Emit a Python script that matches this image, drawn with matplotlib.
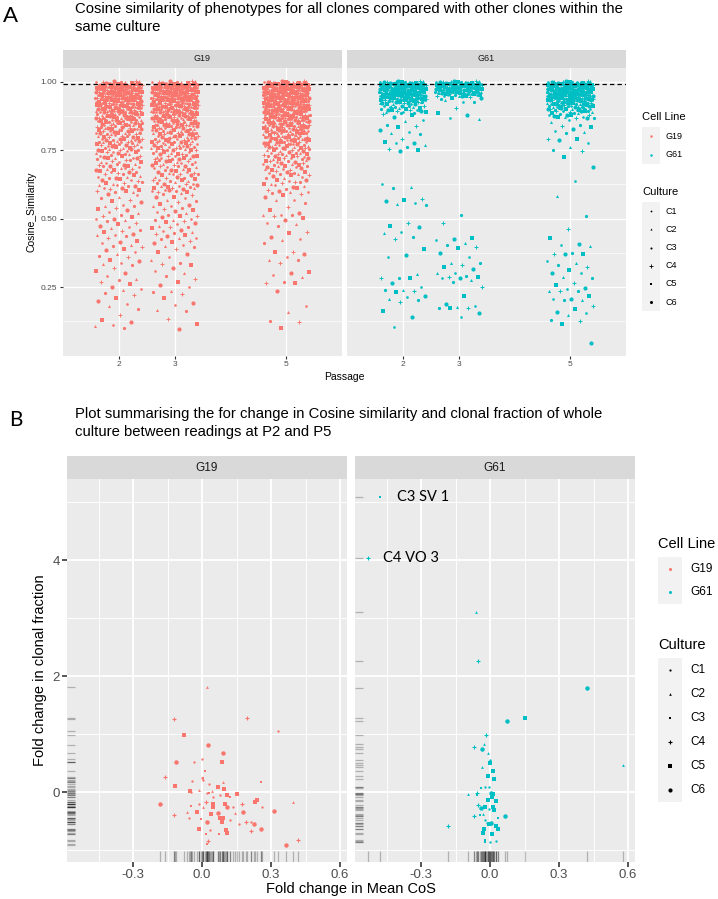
import matplotlib
matplotlib.use('Agg')

import numpy as np
import matplotlib.pyplot as plt
from matplotlib import font_manager
from matplotlib.lines import Line2D
from matplotlib.patches import Rectangle


W, H = 718, 899
RED = '#F8766D'
CYAN = '#00BFC4'
CULTURES = ['C1', 'C2', 'C3', 'C4', 'C5', 'C6']

# ---- panel A: cosine similarity per passage (dense top = value/count table, tail = single clones)
levels_a = [1.00, 0.99, 0.98, 0.97, 0.96, 0.95, 0.94, 0.93, 0.92, 0.91, 0.90, 0.89, 0.88, 0.87,
            0.86, 0.85, 0.84, 0.83, 0.82, 0.81, 0.80, 0.79, 0.78, 0.77, 0.76, 0.75, 0.74, 0.73,
            0.72, 0.71, 0.70, 0.69, 0.68, 0.67, 0.66, 0.65, 0.64, 0.63, 0.62, 0.61, 0.60]

g19_p2_n = [10, 22, 22, 21, 21, 20, 20, 19, 17, 16, 15, 14, 13, 12, 12, 11, 10, 10, 9, 9, 8, 8, 8,
            7, 7, 7, 6, 6, 6, 5, 5, 5, 5, 5, 4, 4, 4, 4, 4, 4, 4]
g19_p2_tail = [0.59, 0.585, 0.58, 0.575, 0.57, 0.565, 0.56, 0.55, 0.548, 0.545, 0.54, 0.535, 0.53,
               0.525, 0.52, 0.515, 0.51, 0.505, 0.50, 0.498, 0.495, 0.49, 0.485, 0.48, 0.475, 0.47,
               0.465, 0.46, 0.455, 0.45, 0.445, 0.44, 0.44, 0.435, 0.43, 0.42, 0.415, 0.41, 0.405,
               0.40, 0.395, 0.39, 0.385, 0.38, 0.37, 0.365, 0.36, 0.35, 0.345, 0.34, 0.335, 0.33,
               0.32, 0.31, 0.30, 0.29, 0.28, 0.275, 0.27, 0.26, 0.25, 0.245, 0.24, 0.23, 0.22, 0.21,
               0.20, 0.19, 0.18, 0.17, 0.15, 0.13, 0.124, 0.112, 0.11, 0.10]

g19_p3_n = [10, 22, 22, 21, 21, 20, 20, 19, 17, 17, 16, 15, 14, 13, 12, 12, 11, 10, 10, 9, 9, 8, 8,
            8, 7, 7, 7, 6, 6, 6, 6, 5, 5, 5, 5, 5, 5, 5, 5, 5, 5]
g19_p3_tail = [0.595, 0.59, 0.585, 0.58, 0.578, 0.575, 0.57, 0.565, 0.56, 0.555, 0.55, 0.548, 0.545,
               0.54, 0.535, 0.53, 0.528, 0.525, 0.52, 0.515, 0.51, 0.508, 0.505, 0.50, 0.497, 0.495,
               0.49, 0.487, 0.485, 0.48, 0.475, 0.47, 0.468, 0.465, 0.46, 0.455, 0.45, 0.447, 0.445,
               0.44, 0.435, 0.43, 0.428, 0.425, 0.42, 0.415, 0.41, 0.405, 0.40, 0.395, 0.39, 0.38,
               0.37, 0.36, 0.35, 0.34, 0.335, 0.33, 0.32, 0.31, 0.30, 0.29, 0.28, 0.27, 0.257, 0.25,
               0.237, 0.233, 0.225, 0.21, 0.193, 0.185, 0.167, 0.164, 0.134, 0.116, 0.096]

g19_p5_n = [12, 24, 24, 23, 23, 22, 22, 21, 20, 19, 18, 17, 16, 15, 15, 14, 13, 12, 12, 11, 11, 10,
            10, 9, 9, 8, 7, 7, 6, 6, 6, 5, 5, 5, 4, 4, 4, 4, 3, 3, 3]
g19_p5_tail = [0.595, 0.59, 0.585, 0.58, 0.568, 0.568, 0.556, 0.544, 0.532, 0.519, 0.513, 0.513,
               0.513, 0.508, 0.501, 0.495, 0.486, 0.481, 0.473, 0.453, 0.447, 0.434, 0.425, 0.422,
               0.41, 0.38, 0.38, 0.371, 0.361, 0.349, 0.349, 0.34, 0.307, 0.301, 0.294, 0.289, 0.27,
               0.267, 0.264, 0.237, 0.181, 0.161, 0.128, 0.122, 0.102]

levels_g61 = [1.00, 0.99, 0.98, 0.97, 0.96, 0.95, 0.94, 0.93, 0.92, 0.91, 0.90, 0.89, 0.88, 0.87]
g61_p2_n = [14, 30, 30, 30, 28, 26, 22, 16, 10, 8, 7, 6, 0, 0]
g61_p2_tail = [0.921, 0.909, 0.897, 0.885, 0.882, 0.878, 0.872, 0.86, 0.858, 0.842, 0.838, 0.836,
               0.824, 0.818, 0.814, 0.808, 0.79, 0.78, 0.777, 0.775, 0.769, 0.763, 0.753, 0.751,
               0.747, 0.627, 0.614, 0.613, 0.571, 0.568, 0.566, 0.556, 0.552, 0.55, 0.483, 0.475,
               0.468, 0.451, 0.449, 0.434, 0.427, 0.388, 0.367, 0.359, 0.297, 0.282, 0.282, 0.282,
               0.267, 0.25, 0.24, 0.239, 0.237, 0.234, 0.218, 0.215, 0.206, 0.203, 0.197, 0.164,
               0.142, 0.104]

g61_p3_n = [14, 30, 30, 28, 22, 10, 4, 2, 0, 0, 0, 0, 0, 0]
g61_p3_tail = [0.927, 0.903, 0.885, 0.878, 0.866, 0.863, 0.513, 0.483, 0.428, 0.425, 0.422, 0.41,
               0.404, 0.398, 0.392, 0.376, 0.359, 0.34, 0.337, 0.331, 0.322, 0.315, 0.303, 0.301,
               0.291, 0.289, 0.289, 0.285, 0.282, 0.276, 0.27, 0.252, 0.219, 0.189, 0.181, 0.177,
               0.175, 0.173, 0.173, 0.157, 0.142]

g61_p5_n = [14, 30, 30, 30, 28, 26, 24, 20, 16, 13, 11, 9, 7, 5]
g61_p5_tail = [0.866, 0.86, 0.854, 0.842, 0.838, 0.836, 0.826, 0.82, 0.818, 0.814, 0.79, 0.79,
               0.787, 0.777, 0.763, 0.751, 0.747, 0.724, 0.69, 0.639, 0.583, 0.511, 0.462, 0.428,
               0.408, 0.404, 0.40, 0.376, 0.371, 0.371, 0.371, 0.346, 0.34, 0.331, 0.322, 0.313,
               0.303, 0.303, 0.286, 0.282, 0.267, 0.258, 0.246, 0.242, 0.237, 0.237, 0.237, 0.218,
               0.207, 0.207, 0.203, 0.203, 0.181, 0.169, 0.161, 0.155, 0.149, 0.13, 0.128, 0.116,
               0.048]

passages = [2, 3, 5]
cos_threshold = 0.99

# ---- panel B: fold changes between P2 and P5
b_g19_x = [0.023, -0.12, 0.196, -0.077, 0.329, 0.028, 0.091, -0.114, 0.087, -0.035, -0.001, 0.012,
           -0.161, 0.003, 0.006, -0.043, 0.09, 0.255, -0.119, 0.032, 0.068, -0.013, -0.051, -0.046,
           0.020, 0.045, 0.096, 0.032, 0.080, 0.110, 0.154, -0.183, 0.019, 0.048, 0.10, 0.122,
           0.230, 0.238, 0.261, 0.394, -0.048, -0.012, 0.006, 0.046, 0.109, 0.136, 0.174, -0.122,
           -0.067, -0.023, 0.039, 0.070, 0.178, 0.145, 0.314, -0.058, -0.003, 0.078, 0.093, 0.120,
           0.020, 0.086, 0.159, 0.190, 0.212, 0.226, -0.014, 0.036, 0.104, 0.107, 0.075, 0.017,
           0.212, 0.257, 0.025, 0.023, 0.365, 0.416, 0.0, 0.049]
b_g19_y = [1.82, 1.26, 1.27, 0.99, 1.05, 0.81, 0.68, 0.52, 0.52, 0.52, 0.57, 0.37, 0.26, 0.25,
           0.20, 0.19, 0.18, 0.18, 0.11, 0.13, 0.09, 0.03, 0.02, 0.0, -0.01, 0.01, 0.05, -0.01,
           -0.05, -0.05, -0.04, -0.20, -0.17, -0.20, -0.20, -0.08, -0.17, -0.14, -0.25, -0.17,
           -0.24, -0.20, -0.25, -0.26, -0.26, -0.25, -0.21, -0.40, -0.34, -0.34, -0.38, -0.37,
           -0.34, -0.37, -0.32, -0.45, -0.46, -0.45, -0.45, -0.49, -0.52, -0.52, -0.55, -0.51,
           -0.52, -0.55, -0.64, -0.66, -0.66, -0.70, -0.72, -0.72, -0.68, -0.63, -0.84, -0.90,
           -0.92, -0.83, 0.24, -0.08]
b_g19_culture = ['C2', 'C4', 'C4', 'C5', 'C1', 'C6', 'C6', 'C6', 'C5', 'C1', 'C1', 'C3', 'C4', 'C3',
                 'C1', 'C1', 'C2', 'C3', 'C5', 'C1', 'C5', 'C2', 'C5', 'C1', 'C1', 'C2', 'C5', 'C3',
                 'C1', 'C5', 'C5', 'C6', 'C4', 'C5', 'C5', 'C3', 'C5', 'C5', 'C1', 'C2', 'C3', 'C1',
                 'C2', 'C5', 'C6', 'C1', 'C4', 'C4', 'C2', 'C5', 'C5', 'C6', 'C6', 'C2', 'C6', 'C1',
                 'C3', 'C5', 'C5', 'C1', 'C6', 'C5', 'C1', 'C4', 'C1', 'C6', 'C5', 'C1', 'C5', 'C5',
                 'C3', 'C3', 'C4', 'C6', 'C4', 'C3', 'C6', 'C4', 'C1', 'C1']

b_g61_x = [-0.478, -0.532, -0.061, -0.054, 0.42, 0.154, 0.074, 0.577, -0.019, -0.026, -0.071,
           -0.033, -0.01, 0.0, 0.001, -0.033, 0.012, -0.007, 0.017, -0.041, -0.020, -0.003, -0.094,
           -0.055, -0.055, 0.003, 0.012, 0.007, -0.009, 0.026, -0.054, -0.038, -0.022, -0.004,
           0.014, 0.019, -0.029, -0.068, -0.043, 0.065, 0.033, -0.022, 0.003, -0.003, -0.014,
           -0.181, 0.026, 0.035, -0.026, -0.032, 0.007, -0.023, -0.020, 0.0, 0.028]
b_g61_y = [5.09, 4.03, 3.10, 2.26, 1.80, 1.27, 1.22, 0.47, 0.98, 0.83, 0.78, 0.74, 0.68, 0.56,
           0.50, 0.44, 0.36, 0.27, 0.22, 0.07, 0.09, 0.08, -0.03, -0.01, -0.05, -0.01, -0.03, -0.08,
           -0.13, -0.16, -0.22, -0.28, -0.26, -0.30, -0.25, -0.31, -0.38, -0.42, -0.40, -0.41,
           -0.45, -0.48, -0.53, -0.55, -0.54, -0.59, -0.58, -0.63, -0.64, -0.71, -0.72, -0.82,
           -0.86, -0.87, -0.84]
b_g61_culture = ['C3', 'C4', 'C2', 'C4', 'C6', 'C5', 'C6', 'C2', 'C4', 'C2', 'C4', 'C6', 'C2', 'C1',
                 'C5', 'C2', 'C5', 'C5', 'C5', 'C3', 'C1', 'C1', 'C2', 'C4', 'C3', 'C6', 'C5', 'C5',
                 'C5', 'C5', 'C4', 'C6', 'C5', 'C1', 'C5', 'C5', 'C2', 'C4', 'C3', 'C6', 'C3', 'C1',
                 'C6', 'C5', 'C1', 'C4', 'C5', 'C5', 'C5', 'C5', 'C5', 'C3', 'C3', 'C1', 'C1']
b_labels = {0: 'C3 SV 1', 1: 'C4 VO 3'}

# ---- fonts
names = {f.name for f in font_manager.fontManager.ttflist}
FONT = 'Liberation Sans' if 'Liberation Sans' in names else 'DejaVu Sans'
plt.rcParams['font.family'] = [FONT, 'DejaVu Sans']

fig = plt.figure(figsize=(W / 100, H / 100), dpi=100)


def px_axes(x0, y0, x1, y1):
    return fig.add_axes([x0 / W, 1 - y1 / H, (x1 - x0) / W, (y1 - y0) / H])


def ftext(x, y, s, **kw):
    fig.text(x / W, 1 - y / H, s, **kw)


def strip(x0, y0, x1, y1, label, size):
    ax = px_axes(x0, y0, x1, y1)
    ax.set_facecolor('#D9D9D9')
    ax.set_xticks([])
    ax.set_yticks([])
    for s in ax.spines.values():
        s.set_visible(False)
    ax.text(0.5, 0.5, label, ha='center', va='center', fontsize=size, color='#1A1A1A',
            transform=ax.transAxes)


def style_panel(ax, xlim, ylim, xmaj, ymaj, xmin, ymin, lw, tick_len, lab_size, show_y):
    ax.set_facecolor('#EBEBEB')
    for s in ax.spines.values():
        s.set_visible(False)
    ax.set_xlim(*xlim)
    ax.set_ylim(*ylim)
    ax.set_xticks(xmaj)
    ax.set_yticks(ymaj)
    ax.set_xticks(xmin, minor=True)
    ax.set_yticks(ymin, minor=True)
    ax.grid(which='major', color='white', lw=lw)
    ax.grid(which='minor', color='white', lw=lw * 0.5)
    ax.set_axisbelow(True)
    ax.tick_params(which='major', color='#333333', length=tick_len, width=lw * 0.9,
                   labelcolor='#4D4D4D', labelsize=lab_size, pad=1.5)
    ax.tick_params(which='minor', length=0)
    if not show_y:
        ax.tick_params(axis='y', which='both', left=False, labelleft=False)


MARK_A = {'C1': ('o', 1.9, 0), 'C2': ('^', 2.2, 0), 'C3': ('o', 2.3, 0),
          'C4': ('+', 3.3, 0.65), 'C5': ('s', 2.4, 0), 'C6': ('o', 3.0, 0)}
MARK_B = {'C1': ('o', 1.7, 0), 'C2': ('^', 2.0, 0), 'C3': ('s', 1.7, 0),
          'C4': ('+', 3.2, 0.8), 'C5': ('s', 2.5, 0), 'C6': ('o', 3.2, 0)}


def draw_marker(ax, x, y, cult, color, table, **kw):
    m, ms, mew = table[cult]
    ax.plot(x, y, ls='none', marker=m, ms=ms, mfc=color, mec=color,
            mew=mew if m == '+' else 0, **kw)


# ================= PANEL A =================
ftext(3, 16, 'A', fontsize=16, va='center', ha='left', family=['Lato', FONT])
ftext(75, 9, 'Cosine similarity of phenotypes for all clones compared with other clones within the',
      fontsize=10.7, va='center')
ftext(75, 27, 'same culture', fontsize=10.7, va='center')

groups_a = {
    'G19': (RED, [(levels_a, g19_p2_n, g19_p2_tail), (levels_a, g19_p3_n, g19_p3_tail),
                  (levels_a, g19_p5_n, g19_p5_tail)]),
    'G61': (CYAN, [(levels_g61, g61_p2_n, g61_p2_tail), (levels_g61, g61_p3_n, g61_p3_tail),
                   (levels_g61, g61_p5_n, g61_p5_tail)]),
}
panel_a_x = {'G19': (63, 342), 'G61': (347, 626)}

for cell, (color, cols) in groups_a.items():
    x0, x1 = panel_a_x[cell]
    strip(x0, 50, x1, 67.7, cell, 6.5)
    ax = px_axes(x0, 67.7, x1, 355.7)
    style_panel(ax, (1.0, 6.0), (0.0, 1.051), passages, [0.25, 0.5, 0.75, 1.0], [],
                [0.125, 0.375, 0.625, 0.875], 0.9, 2.5, 6, cell == 'G19')
    ax.set_yticklabels(['0.25', '0.50', '0.75', '1.00'])
    for p, (lev, cnt, tail) in zip(passages, cols):
        dense = np.repeat(lev, cnt)
        k = np.arange(len(dense))
        dense = dense + ((k * 0.7548776662) % 1 * 2 - 1) * 0.0045
        ys = np.concatenate([dense, tail])
        i = np.arange(len(ys))
        xs = p + ((i * 0.6180339887 + 0.31) % 1 * 2 - 1) * 0.42
        cult = np.array(CULTURES)[i % 6]
        for c in CULTURES:
            sel = cult == c
            draw_marker(ax, xs[sel], ys[sel], c, color, MARK_A)
    ax.axhline(cos_threshold, color='black', ls=(0, (3.5, 2.5)), lw=0.9)
    if cell == 'G19':
        ax.set_ylabel('Cosine_Similarity', fontsize=7.5, color='black', labelpad=3)

ftext(344.5, 377, 'Passage', fontsize=7.5, ha='center', va='center')


def legend(x, y_title, entries, colors, spacing, box_w, title_size, lab_size, markers, lab_dx):
    ftext(x, y_title, entries[0], fontsize=title_size, va='center')
    labels = entries[1]
    top = y_title + spacing * 0.55
    fig.add_artist(Rectangle((x / W, 1 - (top + spacing * len(labels)) / H), box_w / W,
                             spacing * len(labels) / H, transform=fig.transFigure,
                             facecolor='#F2F2F2', edgecolor='none'))
    for j, lab in enumerate(labels):
        yc = top + spacing * (j + 0.5)
        m, ms, mew = markers[j]
        fig.add_artist(Line2D([(x + box_w / 2) / W], [1 - yc / H], transform=fig.transFigure,
                              marker=m, ms=ms, mfc=colors[j], mec=colors[j],
                              mew=mew if m == '+' else 0, ls='none'))
        ftext(x + box_w + lab_dx, yc, lab, fontsize=lab_size, va='center')


dot_a = ('o', 1.8, 0)
legend(642, 117, ('Cell Line', ['G19', 'G61']), [RED, CYAN], 18.5, 18, 8, 6.5,
       [dot_a, dot_a], 6)
legend(642, 192, ('Culture', CULTURES), ['black'] * 6, 18.2, 18, 8, 6.5,
       [('o', 1.3, 0), ('^', 1.5, 0), ('o', 1.5, 0), ('+', 2.6, 0.6), ('s', 1.8, 0),
        ('o', 2.2, 0)], 6)

# ================= PANEL B =================
ftext(9, 420, 'B', fontsize=15, va='center', ha='left', family=['Lato', FONT])
ftext(75, 414, 'Plot summarising the for change in Cosine similarity and clonal fraction of whole',
      fontsize=10.7, va='center')
ftext(75, 432, 'culture between readings at P2 and P5', fontsize=10.7, va='center')

groups_b = {'G19': (RED, b_g19_x, b_g19_y, b_g19_culture, (67, 347)),
            'G61': (CYAN, b_g61_x, b_g61_y, b_g61_culture, (355, 635))}

for cell, (color, bx, by, bc, (x0, x1)) in groups_b.items():
    strip(x0, 456, x1, 479, cell, 8.5)
    ax = px_axes(x0, 479, x1, 862)
    style_panel(ax, (-0.587, 0.630), (-1.207, 5.40), [-0.3, 0.0, 0.3, 0.6], [0, 2, 4],
                [-0.45, -0.15, 0.15, 0.45], [-1, 1, 3, 5], 1.3, 3.5, 9.5, cell == 'G19')
    ax.set_xticklabels(['-0.3', '0.0', '0.3', '0.6'])
    # rugs
    ax.vlines(bx, 0, 0.03, transform=ax.get_xaxis_transform(), color='black', alpha=0.25, lw=0.9)
    ax.hlines(by, 0, 0.03, transform=ax.get_yaxis_transform(), color='black', alpha=0.25, lw=0.9)
    for xv, yv, c in zip(bx, by, bc):
        draw_marker(ax, [xv], [yv], c, color, MARK_B)
    if cell == 'G61':
        for idx, lab in b_labels.items():
            ax.annotate(lab, (bx[idx], by[idx]), xytext=(12 if idx == 0 else 11, 0),
                        textcoords='offset points', va='center', fontsize=10.5,
                        family=['Lato', FONT])
    if cell == 'G19':
        ax.set_ylabel('Fold change in clonal fraction', fontsize=10.5, color='black', labelpad=4)

ftext(351, 889, 'Fold change in Mean CoS', fontsize=10.5, ha='center', va='center')

dot_b = ('o', 2.2, 0)
legend(658, 544, ('Cell Line', ['G19', 'G61']), [RED, CYAN], 23.5, 24, 10.5, 8.5,
       [dot_b, dot_b], 8)
legend(658, 645, ('Culture', CULTURES), ['black'] * 6, 24, 24, 10.5, 8.5,
       [('o', 1.6, 0), ('^', 1.9, 0), ('s', 1.6, 0), ('+', 3.2, 0.8), ('s', 2.6, 0),
        ('o', 3.0, 0)], 8)

fig.savefig('out.png', dpi=100)
